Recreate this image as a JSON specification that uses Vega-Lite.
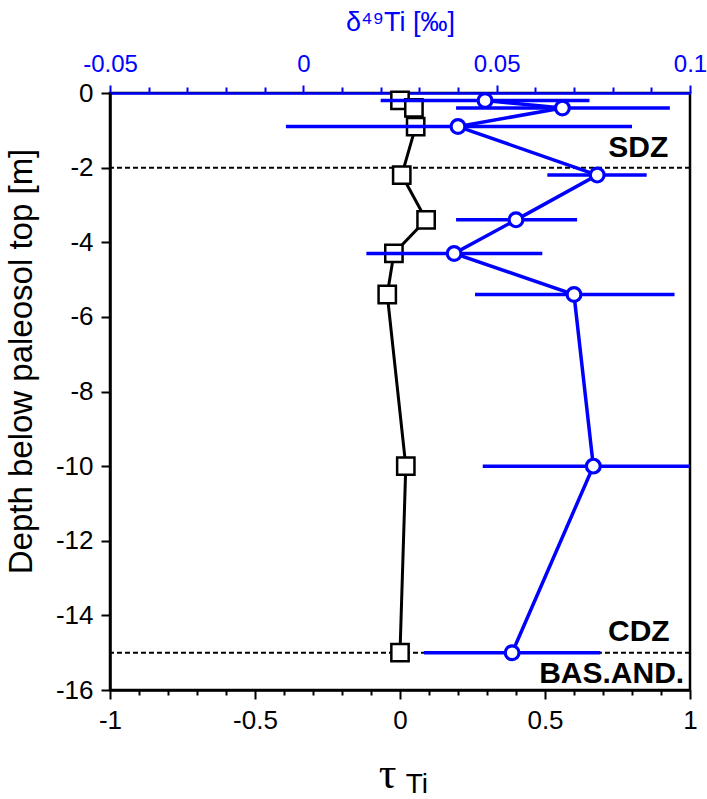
{
  "$schema": "https://vega.github.io/schema/vega-lite/v6.json",
  "autosize": {"type": "none"},
  "width": 580,
  "height": 597,
  "padding": {"left": 110, "top": 93, "right": 17, "bottom": 109},
  "background": "white",
  "config": {
    "view": {"stroke": "black", "strokeWidth": 2.5},
    "font": "Liberation Sans",
    "axis": {"grid": false, "labelFont": "Liberation Sans", "titleFont": "Liberation Sans", "titleFontWeight": "normal"}
  },
  "datasets": {
    "tau": [
      {"depth": -0.2, "tau": 0.0},
      {"depth": -0.4, "tau": 0.048},
      {"depth": -0.9, "tau": 0.054},
      {"depth": -2.2, "tau": 0.006},
      {"depth": -3.4, "tau": 0.09},
      {"depth": -4.3, "tau": -0.021},
      {"depth": -5.4, "tau": -0.044},
      {"depth": -10.0, "tau": 0.02},
      {"depth": -15.0, "tau": 0.0}
    ],
    "delta": [
      {"depth": -0.2, "d49": 0.047, "lo": 0.020, "hi": 0.074},
      {"depth": -0.4, "d49": 0.067, "lo": 0.0395, "hi": 0.0948},
      {"depth": -0.9, "d49": 0.040, "lo": -0.0045, "hi": 0.085},
      {"depth": -2.2, "d49": 0.076, "lo": 0.0631, "hi": 0.0888},
      {"depth": -3.4, "d49": 0.055, "lo": 0.0395, "hi": 0.0708},
      {"depth": -4.3, "d49": 0.039, "lo": 0.0163, "hi": 0.0618},
      {"depth": -5.4, "d49": 0.070, "lo": 0.0444, "hi": 0.096},
      {"depth": -10.0, "d49": 0.075, "lo": 0.0464, "hi": 0.1034},
      {"depth": -15.0, "d49": 0.054, "lo": 0.0312, "hi": 0.0768}
    ],
    "bounds": [{"depth": -2}, {"depth": -15}],
    "zones": [
      {"label": "SDZ", "tau": 0.925, "depth": -1.72},
      {"label": "CDZ", "tau": 0.93, "depth": -14.68},
      {"label": "BAS.AND.", "tau": 0.98, "depth": -15.8}
    ],
    "sub": [{"label": "Ti", "tau": 0.02, "depth": -18.75}]
  },
  "resolve": {"scale": {"x": "independent"}, "axis": {"x": "independent"}},
  "layer": [
    {
      "layer": [
        {
          "data": {"name": "bounds"},
          "mark": {"type": "rule", "color": "black", "strokeWidth": 2, "strokeDash": [5, 3]},
          "encoding": {
            "y": {"field": "depth", "type": "quantitative", "scale": {"domain": [-16, 0], "nice": false, "zero": false},
              "axis": {
                "values": [0, -0.5, -1, -1.5, -2, -2.5, -3, -3.5, -4, -4.5, -5, -5.5, -6, -6.5, -7, -7.5, -8, -8.5, -9, -9.5, -10, -10.5, -11, -11.5, -12, -12.5, -13, -13.5, -14, -14.5, -15, -15.5, -16],
                "labelExpr": "datum.value % 2 == 0 ? '' + datum.value : ''",
                "labelOverlap": false,
                "labelFontSize": 26, "labelColor": "black", "labelPadding": 8,
                "tickColor": "black", "tickWidth": 2,
                "tickSize": {"condition": {"test": "datum.value % 2 == 0", "value": 9}, "value": 5},
                "domainColor": "black", "domainWidth": 2.5,
                "title": "Depth below paleosol top [m]", "titleFontSize": 33, "titleColor": "black",
                "titleAngle": -90, "titleBaseline": "alphabetic", "titleAlign": "center", "titleX": -79, "titleY": 268
              }
            }
          }
        },
        {
          "data": {"name": "tau"},
          "mark": {"type": "line", "color": "black", "strokeWidth": 3},
          "encoding": {
            "x": {"field": "tau", "type": "quantitative", "scale": {"domain": [-1, 1], "nice": false, "zero": false},
              "axis": {
                "orient": "bottom",
                "values": [-1, -0.5, 0, 0.5, 1],
                "labelExpr": "'' + datum.value",
                "labelOverlap": false,
                "labelFontSize": 26, "labelColor": "black", "labelPadding": 8, "labelFlush": false,
                "tickColor": "black", "tickWidth": 2, "tickSize": 9,
                "domainColor": "black", "domainWidth": 2.5,
                "title": "τ", "titleFontSize": 44, "titleFont": "Liberation Serif", "titleColor": "black",
                "titleBaseline": "alphabetic", "titleAlign": "center", "titleX": 277, "titleY": 97
              }
            },
            "y": {"field": "depth", "type": "quantitative"},
            "order": {"field": "depth", "sort": "descending"}
          }
        },
        {
          "data": {"name": "tau"},
          "mark": {"type": "point", "shape": "square", "filled": true, "fill": "white", "stroke": "black", "strokeWidth": 2.5, "size": 300, "opacity": 1},
          "encoding": {
            "x": {"field": "tau", "type": "quantitative"},
            "y": {"field": "depth", "type": "quantitative"}
          }
        },
        {
          "data": {"name": "zones"},
          "mark": {"type": "text", "align": "right", "baseline": "alphabetic", "fontWeight": "bold", "fontSize": 30, "font": "Liberation Sans", "color": "black"},
          "encoding": {
            "x": {"field": "tau", "type": "quantitative"},
            "y": {"field": "depth", "type": "quantitative"},
            "text": {"field": "label"}
          }
        }
      ]
    },
    {
      "data": {"name": "sub"},
      "mark": {"type": "text", "align": "left", "baseline": "alphabetic", "fontSize": 28, "font": "Liberation Sans", "color": "black", "clip": false},
      "encoding": {
        "x": {"field": "tau", "type": "quantitative", "scale": {"domain": [-1, 1], "nice": false, "zero": false},
          "axis": {
            "orient": "bottom",
            "values": [-0.9, -0.8, -0.7, -0.6, -0.4, -0.3, -0.2, -0.1, 0.1, 0.2, 0.3, 0.4, 0.6, 0.7, 0.8, 0.9],
            "labels": false, "domain": false, "title": null,
            "tickColor": "black", "tickWidth": 2, "tickSize": 5
          }
        },
        "y": {"field": "depth", "type": "quantitative"},
        "text": {"field": "label"}
      }
    },
    {
      "layer": [
        {
          "data": {"name": "delta"},
          "mark": {"type": "rule", "color": "#0000FF", "strokeWidth": 3.5, "clip": true},
          "encoding": {
            "x": {"field": "lo", "type": "quantitative", "scale": {"domain": [-0.05, 0.1], "nice": false, "zero": false},
              "axis": {
                "orient": "top",
                "values": [-0.05, 0, 0.05, 0.1],
                "labelExpr": "'' + datum.value",
                "labelOverlap": false,
                "labelFontSize": 24, "labelColor": "#0000FF", "labelPadding": 9, "labelFlush": false,
                "tickColor": "#0000FF", "tickWidth": 2, "tickSize": 8,
                "domainColor": "#0000FF", "domainWidth": 2.5,
                "title": "δ⁴⁹Ti [‰]", "titleFontSize": 27, "titleColor": "#0000FF",
                "titleBaseline": "alphabetic", "titleAlign": "center", "titleX": 290, "titleY": -63
              }
            },
            "x2": {"field": "hi"},
            "y": {"field": "depth", "type": "quantitative"}
          }
        },
        {
          "data": {"name": "delta"},
          "mark": {"type": "line", "color": "#0000FF", "strokeWidth": 3.5},
          "encoding": {
            "x": {"field": "d49", "type": "quantitative"},
            "y": {"field": "depth", "type": "quantitative"},
            "order": {"field": "depth", "sort": "descending"}
          }
        }
      ]
    },
    {
      "data": {"name": "delta"},
      "mark": {"type": "point", "shape": "circle", "filled": true, "fill": "white", "stroke": "#0000FF", "strokeWidth": 3.2, "size": 190, "opacity": 1},
      "encoding": {
        "x": {"field": "d49", "type": "quantitative", "scale": {"domain": [-0.05, 0.1], "nice": false, "zero": false},
          "axis": {
            "orient": "top",
            "values": [-0.04, -0.03, -0.02, -0.01, 0.01, 0.02, 0.03, 0.04, 0.06, 0.07, 0.08, 0.09],
            "labels": false, "domain": false, "title": null,
            "tickColor": "#0000FF", "tickWidth": 2, "tickSize": 6
          }
        },
        "y": {"field": "depth", "type": "quantitative"}
      }
    }
  ]
}
